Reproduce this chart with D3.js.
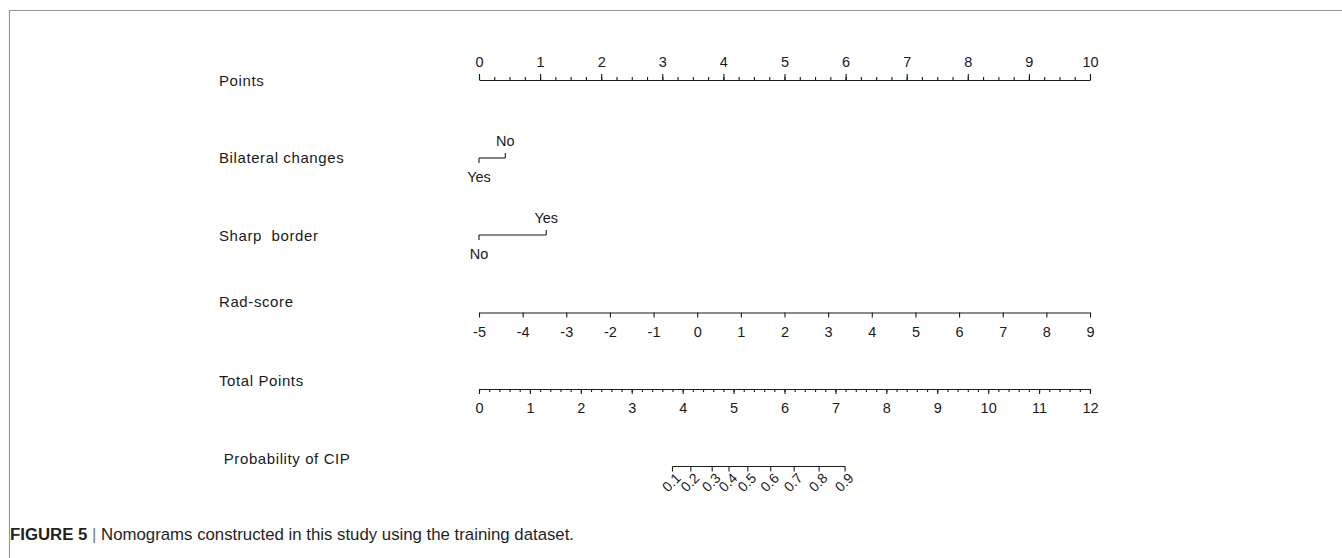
<!DOCTYPE html>
<html>
<head>
<meta charset="utf-8">
<script src="https://cdn.jsdelivr.net/npm/d3@7"></script>
<style>
  html, body { margin: 0; padding: 0; background: #fff; }
  svg { display: block; }
</style>
</head>
<body>
<svg id="chart" width="1342" height="558"></svg>
<script>
// Nomogram predictors and scale definitions
const rowLabels = ["Points", "Bilateral changes", "Sharp  border", "Rad-score", "Total Points", " Probability of CIP"];

const pointsTicks = d3.range(0, 11, 1);          // 0 .. 10
const pointsMinorStep = 0.25;

const bilateralLevels = ["Yes", "No"];
const bilateralPoints = [0, 0.43];

const sharpLevels = ["No", "Yes"];
const sharpPoints = [0, 1.10];

const radDomain = [-5, 9];
const radTicks = d3.range(-5, 10, 1);
const radPointsRange = [0, 10];

const totalTicks = d3.range(0, 13, 1);          // 0 .. 12
const totalMinorStep = 0.2;

const probLabels = ["0.1", "0.2", "0.3", "0.4", "0.5", "0.6", "0.7", "0.8", "0.9"];
const probTotalPoints = [3.80, 4.16, 4.58, 4.91, 5.28, 5.73, 6.19, 6.68, 7.19];

const caption = "Nomograms constructed in this study using the training dataset.";

// Layout
const svg = d3.select("#chart");
const x0 = 479, x1 = 1090;
const labelX = 219;
const rowY = { points: 80, bilateral: 158, sharp: 235, rad: 312.5, total: 389, prob: 466.5 };
const font = "'Liberation Sans', Arial, sans-serif";
const ink = "#1a1a1a";
const fs = 14.5;

const xPoints = d3.scaleLinear().domain([0, 10]).range([x0, x1]);
const radToPoints = d3.scaleLinear().domain(radDomain).range(radPointsRange);
const xTotal = d3.scaleLinear().domain([0, 12]).range([x0, x1]);

// Frame
svg.append("path")
  .attr("d", "M9.5,558 V10.5 H1342")
  .attr("fill", "none").attr("stroke", "#9a9a9a").attr("stroke-width", 1.2);

// Row labels
const labelYs = [81, 158, 236, 302, 381, 459];
svg.append("g").selectAll("text").data(rowLabels).join("text")
  .attr("x", labelX).attr("y", (d, i) => labelYs[i])
  .attr("dy", "0.35em")
  .attr("font-family", font).attr("font-size", 15).attr("fill", ink)
  .attr("letter-spacing", 0.6)
  .attr("xml:space", "preserve")
  .style("white-space", "pre")
  .text(d => d);

function styleAxis(g) {
  g.attr("font-size", null).attr("font-family", null);
  g.select(".domain").attr("stroke", ink).attr("stroke-width", 1.1);
  g.selectAll(".tick line").attr("stroke", ink).attr("stroke-width", 1.1);
  g.selectAll(".tick text").attr("font-family", font).attr("font-size", fs).attr("fill", ink);
}

// Points axis (labels above)
const gPtsMinor = svg.append("g").attr("transform", `translate(0,${rowY.points})`)
  .call(d3.axisTop(xPoints).tickValues(d3.range(0, 10.001, pointsMinorStep)).tickSize(3).tickSizeOuter(0).tickFormat(""));
styleAxis(gPtsMinor);
const gPts = svg.append("g").attr("transform", `translate(0,${rowY.points})`)
  .call(d3.axisTop(xPoints).tickValues(pointsTicks).tickSize(6).tickSizeOuter(0).tickPadding(7));
styleAxis(gPts);
gPts.select(".domain").remove();

// Categorical predictors: first level tick down / label below, second tick up / label above
function categorical(y, levels, pts) {
  const g = svg.append("g");
  const xs = pts.map(p => xPoints(p));
  g.append("line").attr("x1", d3.min(xs)).attr("x2", d3.max(xs)).attr("y1", y).attr("y2", y)
    .attr("stroke", ink).attr("stroke-width", 1.1);
  levels.forEach((lv, i) => {
    const down = i % 2 === 0;
    g.append("line").attr("x1", xs[i]).attr("x2", xs[i])
      .attr("y1", y).attr("y2", down ? y + 5 : y - 5)
      .attr("stroke", ink).attr("stroke-width", 1.1);
    g.append("text").attr("x", xs[i]).attr("y", down ? y + 23.5 : y - 12)
      .attr("text-anchor", "middle")
      .attr("font-family", font).attr("font-size", fs).attr("fill", ink)
      .text(lv);
  });
}
categorical(rowY.bilateral, bilateralLevels, bilateralPoints);
categorical(rowY.sharp, sharpLevels, sharpPoints);

// Rad-score axis (labels below)
const xRad = v => xPoints(radToPoints(v));
const radScale = d3.scaleLinear().domain(radDomain).range([xRad(radDomain[0]), xRad(radDomain[1])]);
const gRad = svg.append("g").attr("transform", `translate(0,${rowY.rad})`)
  .call(d3.axisBottom(radScale).tickValues(radTicks).tickSize(5).tickSizeOuter(0).tickPadding(9).tickFormat(d3.format("d")));
styleAxis(gRad);
gRad.selectAll(".tick text").text(d => d < 0 ? "-" + Math.abs(d) : d);

// Total Points axis
const gTotMinor = svg.append("g").attr("transform", `translate(0,${rowY.total})`)
  .call(d3.axisBottom(xTotal).tickValues(d3.range(0, 12.001, totalMinorStep)).tickSize(3).tickSizeOuter(0).tickFormat(""));
styleAxis(gTotMinor);
const gTot = svg.append("g").attr("transform", `translate(0,${rowY.total})`)
  .call(d3.axisBottom(xTotal).tickValues(totalTicks).tickSize(5).tickSizeOuter(0).tickPadding(9));
styleAxis(gTot);
gTot.select(".domain").remove();

// Probability axis
const probXs = probTotalPoints.map(t => xTotal(t));
const gProb = svg.append("g");
gProb.append("line").attr("x1", probXs[0]).attr("x2", probXs[probXs.length - 1])
  .attr("y1", rowY.prob).attr("y2", rowY.prob).attr("stroke", ink).attr("stroke-width", 1.1);
gProb.selectAll("line.tk").data(probXs).join("line").attr("class", "tk")
  .attr("x1", d => d).attr("x2", d => d)
  .attr("y1", rowY.prob).attr("y2", rowY.prob + 5)
  .attr("stroke", ink).attr("stroke-width", 1.1);
gProb.selectAll("text").data(probLabels).join("text")
  .attr("transform", (d, i) => `translate(${probXs[i] - 1},${rowY.prob + 16}) rotate(-45)`)
  .attr("text-anchor", "middle").attr("dy", "0.35em")
  .attr("font-family", font).attr("font-size", 14).attr("fill", ink)
  .text(d => d);

// Caption
const cap = svg.append("text").attr("x", 10).attr("y", 540)
  .attr("font-family", "'Liberation Sans Narrow', 'Liberation Sans', Arial, sans-serif")
  .attr("font-size", 16.8).attr("fill", "#1f1f1f");
cap.append("tspan").attr("font-weight", "bold").text("FIGURE 5");
cap.append("tspan").attr("fill", "#777").text(" | ");
cap.append("tspan").text(caption);
</script>
</body>
</html>
